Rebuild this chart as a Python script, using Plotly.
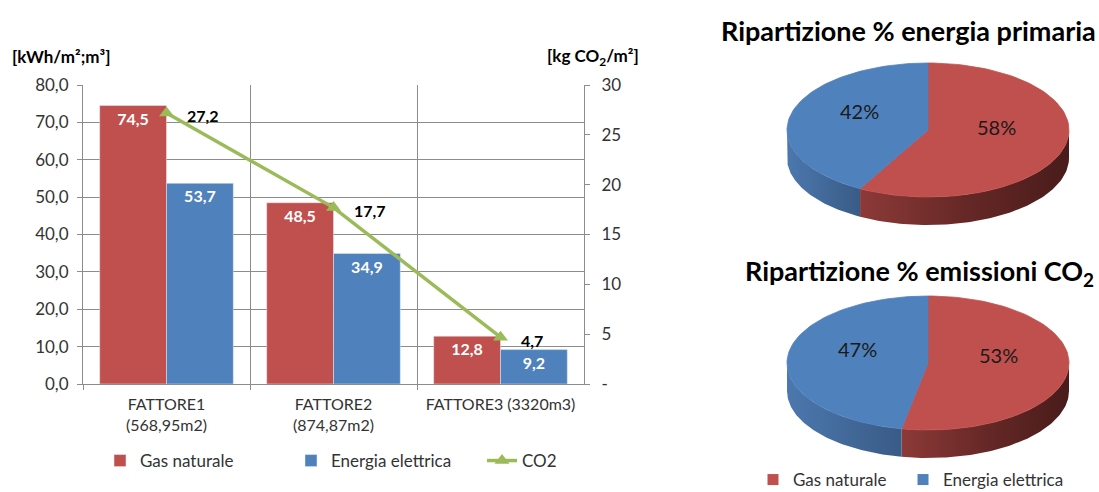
import numpy as np
import plotly.graph_objects as go

# ---- data -----------------------------------------------------------------
categories = ["FATTORE1<br>(568,95m2)", "FATTORE2<br>(874,87m2)", "FATTORE3 (3320m3)"]
gas_naturale = [74.5, 48.5, 12.8]
energia_elettrica = [53.7, 34.9, 9.2]
co2 = [27.2, 17.7, 4.7]

energy_ticks = [0, 10, 20, 30, 40, 50, 60, 70, 80]
co2_ticks = [0, 5, 10, 15, 20, 25, 30]
co2_tick_labels = ["-", "5", "10", "15", "20", "25", "30"]

pie_sources = ["Gas naturale", "Energia elettrica"]
primary_energy_share = [58, 42]
co2_emission_share = [53, 47]

# ---- styling --------------------------------------------------------------
RED = "#C0504D"
BLUE = "#4F81BD"
GREEN = "#9BBB59"
GRID = "#8C8C8C"
FONT = "Lato"
W, H = 1099, 492

side_scales = {
    RED: [[0, "#8C3A38"], [0.5, "#662826"], [1, "#481C1B"]],
    BLUE: [[0, "#4C78AF"], [1, "#395B86"]],
}

fig = go.Figure()

# ---- grouped bars + CO2 line ---------------------------------------------
fig.add_trace(go.Bar(
    x=categories, y=gas_naturale, name="Gas naturale", marker_color=RED,
    text=[f"{v:.1f}".replace(".", ",") for v in gas_naturale],
    textposition="inside", insidetextanchor="end",
    textfont=dict(family=FONT, size=16, color="white", weight="bold"),
    xaxis="x", yaxis="y", legend="legend",
))
fig.add_trace(go.Bar(
    x=categories, y=energia_elettrica, name="Energia elettrica", marker_color=BLUE,
    text=[f"{v:.1f}".replace(".", ",") for v in energia_elettrica],
    textposition="inside", insidetextanchor="end",
    textfont=dict(family=FONT, size=16, color="white", weight="bold"),
    xaxis="x", yaxis="y", legend="legend",
))
fig.add_trace(go.Scatter(
    x=categories, y=co2, name="CO2", mode="lines+markers",
    line=dict(color=GREEN, width=3.5),
    marker=dict(symbol="triangle-up", size=13, color=GREEN),
    xaxis="x", yaxis="y2", legend="legend",
))

for c, v in zip(categories, co2):
    fig.add_annotation(
        x=c, y=v, xref="x", yref="y2", text=f"<b>{v:.1f}</b>".replace(".", ","),
        showarrow=False, xanchor="left", yanchor="middle", xshift=18, yshift=-3,
        font=dict(family=FONT, size=16, color="black"),
    )

# ---- pseudo-3D pies drawn on a pixel-scaled axis pair --------------------
RX, RY, DEPTH = 141, 67, 28


def arc(cx, cy, t0, t1, n=90):
    t = np.radians(np.linspace(t0, t1, n))
    return cx + RX * np.cos(t), cy - RY * np.sin(t)


def draw_pie(shares, cx, cy):
    colors = [RED, BLUE]
    total = float(sum(shares))
    bounds = []
    start = 90.0
    for s in shares:
        end = start - 360.0 * s / total
        bounds.append((start, end))
        start = end
    # side walls: only the lower half of the rim is visible
    for (t0, t1), col in zip(bounds, colors):
        lo, hi = max(min(t0, t1), -180.0), min(max(t0, t1), 0.0)
        if hi <= lo:
            continue
        xs, ys = arc(cx, cy, hi, lo)
        px = np.concatenate([xs, xs[::-1], xs[:1]])
        py = np.concatenate([ys, ys[::-1] + DEPTH, ys[:1]])
        fig.add_trace(go.Scatter(
            x=px, y=py, mode="lines", fill="toself", line=dict(width=0),
            fillgradient=dict(type="horizontal", colorscale=side_scales[col]),
            xaxis="x3", yaxis="y3", showlegend=False, hoverinfo="skip",
        ))
    # top faces and percentage labels
    for (t0, t1), col, s, name in zip(bounds, colors, shares, pie_sources):
        xs, ys = arc(cx, cy, t0, t1)
        fig.add_trace(go.Scatter(
            x=np.concatenate([[cx], xs, [cx]]), y=np.concatenate([[cy], ys, [cy]]),
            mode="lines", fill="toself", fillcolor=col, line=dict(width=0.8, color=col),
            name=name, legendgroup=name, showlegend=False,
            xaxis="x3", yaxis="y3", hoverinfo="skip",
        ))
        mid = np.radians((t0 + t1) / 2)
        fig.add_annotation(
            x=cx + 0.5 * RX * np.cos(mid), y=cy - 0.5 * RY * np.sin(mid) - 11,
            xref="x3", yref="y3", text=f"{s}%", showarrow=False,
            font=dict(family=FONT, size=20, color="#1A1A1A"),
        )


draw_pie(primary_energy_share, 928, 130)
draw_pie(co2_emission_share, 928, 363)

# legend keys shared by both pies (one small legend per source)
for name, col, leg in zip(pie_sources, [RED, BLUE], ["legend2", "legend3"]):
    fig.add_trace(go.Scatter(
        x=[None], y=[None], mode="markers", name=name, legendgroup=name,
        marker=dict(symbol="square", size=11, color=col),
        xaxis="x3", yaxis="y3", legend=leg, hoverinfo="skip",
    ))

# ---- titles ---------------------------------------------------------------
fig.add_annotation(x=10 / W, y=1 - 57 / H, xref="paper", yref="paper",
                   text="<b>[kWh/m²;m³]</b>", showarrow=False, xanchor="left",
                   yanchor="middle", font=dict(family=FONT, size=17, color="black"))
fig.add_annotation(x=641 / W, y=1 - 57 / H, xref="paper", yref="paper",
                   text="<b>[kg CO<sub>2</sub>/m²]</b>", showarrow=False, xanchor="right",
                   yanchor="middle", font=dict(family=FONT, size=17, color="black"))
fig.add_annotation(x=908 / W, y=1 - 30 / H, xref="paper", yref="paper",
                   text="<b>Ripartizione % energia primaria</b>", showarrow=False,
                   xanchor="center", yanchor="middle",
                   font=dict(family=FONT, size=27, color="black"))
fig.add_annotation(x=919 / W, y=1 - 272 / H, xref="paper", yref="paper",
                   text="<b>Ripartizione % emissioni CO<sub>2</sub></b>", showarrow=False,
                   xanchor="center", yanchor="middle",
                   font=dict(family=FONT, size=27, color="black"))

# ---- layout ---------------------------------------------------------------
axis_common = dict(showline=True, linecolor=GRID, linewidth=1, ticks="outside",
                   ticklen=5, tickcolor=GRID, zeroline=False)
pie_legend = dict(orientation="h", y=1 - 480 / H, xanchor="left", yanchor="middle",
                  font=dict(family=FONT, size=17, color="#333333"),
                  bgcolor="rgba(0,0,0,0)", itemwidth=30)

fig.update_layout(
    width=W, height=H, margin=dict(l=0, r=0, t=0, b=0, autoexpand=False),
    paper_bgcolor="white", plot_bgcolor="white",
    separators=",.",
    barmode="group", bargap=0.2, bargroupgap=0,
    font=dict(family=FONT, size=17, color="#333333"),
    xaxis=dict(domain=[83 / W, 584 / W], anchor="y", type="category",
               tickson="boundaries", showgrid=True, gridcolor=GRID, gridwidth=1,
               range=[-0.5, 2.5], ticklabelstandoff=6,
               tickfont=dict(family=FONT, size=16, color="#333333"), **axis_common),
    yaxis=dict(domain=[(H - 384) / H, (H - 85) / H], anchor="x", range=[0, 80],
               tickvals=energy_ticks, tickformat=".1f", showgrid=True,
               gridcolor=GRID, gridwidth=1, ticklabelstandoff=5,
               tickfont=dict(family=FONT, size=17, color="#333333"), **axis_common),
    yaxis2=dict(overlaying="y", side="right", anchor="x", range=[0, 30],
                tickvals=co2_ticks, ticktext=co2_tick_labels, showgrid=False,
                ticklabelstandoff=8,
                tickfont=dict(family=FONT, size=17, color="#333333"), **axis_common),
    xaxis3=dict(domain=[600 / W, 1], range=[600, W], visible=False, anchor="y3"),
    yaxis3=dict(domain=[0, 1], range=[H, 0], visible=False, anchor="x3"),
    legend=dict(orientation="h", x=100 / W, y=1 - 461 / H, xanchor="left",
                yanchor="middle", entrywidth=146, font=dict(family=FONT, size=17,
                color="#333333"), bgcolor="rgba(0,0,0,0)", traceorder="normal"),
    legend2=dict(x=753 / W, **pie_legend),
    legend3=dict(x=903 / W, **pie_legend),
    showlegend=True,
)

fig.write_html("out.html")
